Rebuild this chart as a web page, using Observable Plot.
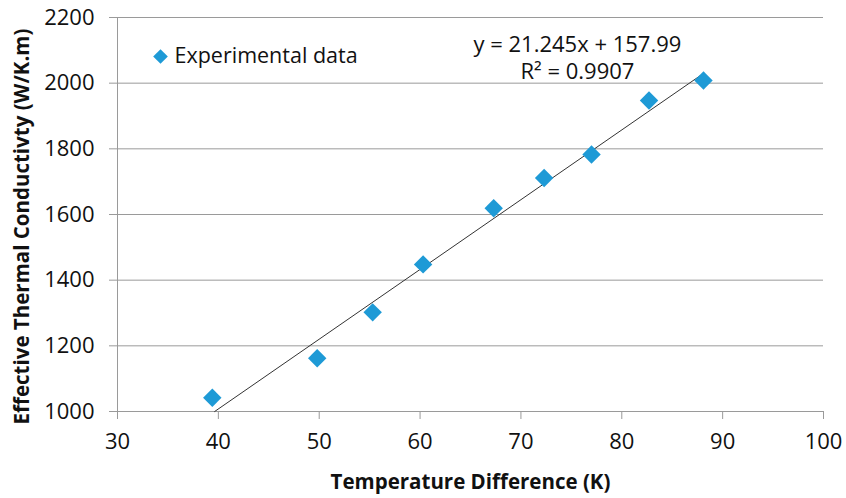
<!DOCTYPE html>
<html>
<head>
<meta charset="utf-8">
<script src="https://cdn.jsdelivr.net/npm/d3@7"></script>
<script src="https://cdn.jsdelivr.net/npm/@observablehq/plot@0.6"></script>
<style>
  html, body { margin: 0; padding: 0; background: #fff; }
  #chart svg { display: block; }
</style>
</head>
<body>
<div id="chart"></div>
<script>
// Data
const tempDiff = [39.4, 49.8, 55.3, 60.3, 67.3, 72.3, 77.0, 82.7, 88.1];
const conductivity = [1042, 1162, 1302, 1448, 1619, 1711, 1783, 1947, 2008];
const slope = 21.245;
const intercept = 157.99;
const rSquared = "0.9907";
const xTicks = [30, 40, 50, 60, 70, 80, 90, 100];
const yTicks = [1000, 1200, 1400, 1600, 1800, 2000, 2200];
const seriesName = "Experimental data";
const xLabel = "Temperature Difference (K)";
const yLabel = "Effective Thermal Conductivty (W/K.m)";

const points = tempDiff.map((x, i) => ({x, y: conductivity[i]}));
const xMin = Math.max(d3.min(tempDiff), (1000 - intercept) / slope);
const xMax = d3.max(tempDiff);
const trend = [xMin, xMax].map(x => ({x, y: slope * x + intercept}));

const font = "'Open Sans', sans-serif";
const blue = "#1E9AD6";

const chart = Plot.plot({
  width: 846,
  height: 498,
  marginLeft: 117,
  marginRight: 23,
  marginTop: 17,
  marginBottom: 87,
  style: {fontFamily: font, color: "#111", background: "#fff"},
  x: {domain: [30, 100]},
  y: {domain: [1000, 2200]},
  marks: [
    Plot.gridY(yTicks, {stroke: "#9a9a9a", strokeOpacity: 1, strokeWidth: 1}),
    Plot.axisY(yTicks, {tickSize: 8, tickPadding: 15, fontSize: 22, stroke: "#9a9a9a", label: null, tickFormat: "d"}),
    Plot.axisX(xTicks, {tickSize: 8, tickPadding: 14, fontSize: 22, stroke: "#9a9a9a", label: null, tickFormat: "d"}),
    Plot.ruleX([30], {stroke: "#9a9a9a"}),
    Plot.ruleY([1000], {stroke: "#9a9a9a"}),
    Plot.line(trend, {x: "x", y: "y", stroke: "#333", strokeWidth: 1}),
    Plot.dot(points, {x: "x", y: "y", symbol: "diamond2", r: 8.3, fill: blue, stroke: "none"}),
    Plot.dot([seriesName], {frameAnchor: "top-left", dx: 43, dy: 39, symbol: "diamond2", r: 6.6, fill: blue}),
    Plot.text([seriesName], {frameAnchor: "top-left", dx: 57, dy: 39, text: d => d, textAnchor: "start", lineAnchor: "middle", fontSize: 21.5, fill: "#111"}),
    Plot.text([`y = ${slope}x + ${intercept}`], {x: 75.6, y: 2115, text: d => d, fontSize: 22, fill: "#111"}),
    Plot.text([`R² = ${rSquared}`], {x: 75.6, y: 2033, text: d => d, fontSize: 22, fill: "#111"}),
    Plot.text([xLabel], {frameAnchor: "bottom", dy: 71, text: d => d, textAnchor: "middle", lineAnchor: "middle", fontSize: 20.5, fontWeight: "bold", fill: "#111"}),
    Plot.text([yLabel], {frameAnchor: "left", dx: -95, dy: 12, rotate: -90, text: d => d, textAnchor: "middle", lineAnchor: "middle", fontSize: 20.5, fontWeight: "bold", fill: "#111"})
  ]
});
document.getElementById("chart").append(chart);
</script>
</body>
</html>
